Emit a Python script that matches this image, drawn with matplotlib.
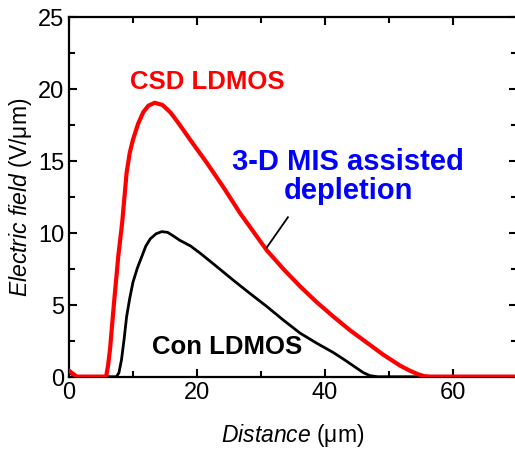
import matplotlib
matplotlib.use("Agg")
import matplotlib.pyplot as plt
from matplotlib.ticker import MultipleLocator

plt.rcParams['font.family'] = ['Liberation Sans', 'DejaVu Sans']
plt.rcParams['mathtext.fontset'] = 'custom'
plt.rcParams['mathtext.rm'] = 'Liberation Sans'
plt.rcParams['mathtext.it'] = 'Liberation Sans:italic'

# CSD LDMOS field profile (red)
csd_x = [0, 0.4, 1.2, 5.8, 6.1, 6.4, 7.0, 7.7, 8.3, 9.0, 9.5, 10.0, 10.8,
         11.6, 12.4, 13.4, 14.6, 15.8, 16.5, 17.0, 17.8, 18.9, 20.2, 21.5,
         22.8, 24.1, 25.4, 26.7, 28.8, 30.9, 33.5, 36.1, 38.7, 41.3, 43.9,
         46.5, 49.1, 51.7, 53.2, 54.5, 55.5, 56.5, 70]
csd_y = [0.45, 0.3, 0.03, 0.03, 0.8, 1.9, 5.0, 8.4, 10.7, 14.2, 15.6, 16.5, 17.6,
         18.4, 18.85, 19.05, 18.9, 18.4, 18.0, 17.7, 17.2, 16.5, 15.7, 14.9,
         14.05, 13.2, 12.3, 11.4, 10.1, 8.8, 7.5, 6.3, 5.2, 4.2, 3.25,
         2.4, 1.55, 0.8, 0.45, 0.2, 0.06, 0.03, 0.03]

# Conventional LDMOS field profile (black)
con_x = [0, 0.4, 1.2, 7.4, 7.8, 8.2, 8.6, 9.0, 9.5, 10.0, 10.7, 11.4, 12.0,
         12.7, 13.6, 14.5, 15.4, 16.3, 17.3, 19.0, 20.5, 23.0, 25.6, 28.0,
         30.9, 33.5, 36.1, 38.7, 41.3, 43.2, 45.0, 46.0, 47.0, 48.2, 70]
con_y = [0.35, 0.2, 0.02, 0.02, 0.3, 1.2, 2.6, 4.2, 5.5, 6.6, 7.6, 8.4, 9.1,
         9.6, 9.95, 10.1, 10.05, 9.8, 9.5, 9.1, 8.6, 7.7, 6.75, 5.9,
         4.9, 3.95, 3.05, 2.35, 1.7, 1.15, 0.6, 0.3, 0.1, 0.02, 0.02]

fig = plt.figure(figsize=(5.15, 4.51), dpi=100)
ax = fig.add_axes([0.134, 0.164, 0.870, 0.798])

ax.plot(con_x, con_y, color='black', lw=2.0, zorder=3,
        solid_joinstyle='round', solid_capstyle='round')
ax.plot(csd_x, csd_y, color='#ff0000', lw=3.0, zorder=4,
        solid_joinstyle='round', solid_capstyle='round')

ax.set_xlim(0, 70)
ax.set_ylim(0, 25)
ax.xaxis.set_major_locator(MultipleLocator(20))
ax.xaxis.set_minor_locator(MultipleLocator(10))
ax.yaxis.set_major_locator(MultipleLocator(5))
ax.yaxis.set_minor_locator(MultipleLocator(2.5))
ax.tick_params(which='both', direction='in', top=True, right=True,
               labelsize=17, width=1.5)
ax.tick_params(which='major', length=6)
ax.tick_params(which='minor', length=4)
for s in ax.spines.values():
    s.set_linewidth(1.6)

ax.set_xlabel(r'$\it{Distance}$ (μm)', fontsize=16.5, labelpad=13)
ax.set_ylabel(r'$\it{Electric\ field}$ (V/μm)', fontsize=16.5, labelpad=3)

ax.text(21.6, 20.5, 'CSD LDMOS', color='#ff0000', fontsize=18.5,
        fontweight='bold', ha='center', va='center')
ax.text(43.6, 13.9, '3-D MIS assisted\ndepletion', color='#0000ff',
        fontsize=21, fontweight='bold', ha='center', va='center',
        linespacing=1.05)
ax.plot([34.2, 30.9], [11.1, 9.0], color='black', lw=1.3, zorder=5)
ax.text(24.7, 2.1, 'Con LDMOS', color='black', fontsize=18.5,
        fontweight='bold', ha='center', va='center')

fig.savefig('out.png', dpi=100)
